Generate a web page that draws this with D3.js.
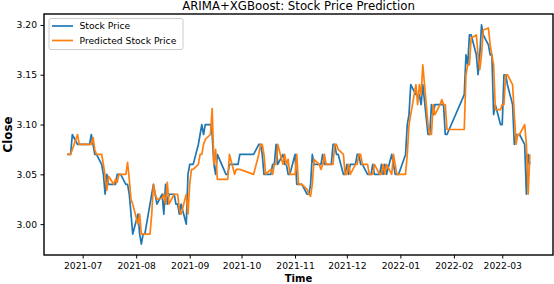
<!DOCTYPE html>
<html>
<head>
<meta charset="utf-8">
<script src="https://cdn.jsdelivr.net/npm/d3@7"></script>
<style>
  body { margin: 0; background: #fff; }
  svg { font-family: "DejaVu Sans", sans-serif; }
</style>
</head>
<body>
<div id="chart"></div>
<script>
// trading days (dates), actual close and predicted close
var dates = [
  "2021-06-22","2021-06-23","2021-06-24","2021-06-25","2021-06-28","2021-06-29","2021-06-30",
  "2021-07-01","2021-07-02","2021-07-05","2021-07-06","2021-07-07","2021-07-08","2021-07-09",
  "2021-07-12","2021-07-13","2021-07-14","2021-07-15","2021-07-16","2021-07-19","2021-07-20",
  "2021-07-21","2021-07-22","2021-07-23","2021-07-26","2021-07-27","2021-07-28","2021-07-29",
  "2021-07-30","2021-08-02","2021-08-03","2021-08-04","2021-08-05","2021-08-06","2021-08-09",
  "2021-08-10","2021-08-11","2021-08-12","2021-08-13","2021-08-16","2021-08-17","2021-08-18",
  "2021-08-19","2021-08-20","2021-08-23","2021-08-24","2021-08-25","2021-08-26","2021-08-27",
  "2021-08-30","2021-08-31","2021-09-01","2021-09-02","2021-09-03","2021-09-06","2021-09-07",
  "2021-09-08","2021-09-09","2021-09-10","2021-09-13","2021-09-14","2021-09-15","2021-09-16",
  "2021-09-17","2021-09-22","2021-09-23","2021-09-24","2021-09-27","2021-09-28","2021-09-29",
  "2021-09-30","2021-10-08","2021-10-11","2021-10-12","2021-10-13","2021-10-14","2021-10-15",
  "2021-10-18","2021-10-19","2021-10-20","2021-10-21","2021-10-22","2021-10-25","2021-10-26",
  "2021-10-27","2021-10-28","2021-10-29","2021-11-01","2021-11-02","2021-11-03","2021-11-04",
  "2021-11-05","2021-11-08","2021-11-09","2021-11-10","2021-11-11","2021-11-12","2021-11-15",
  "2021-11-16","2021-11-17","2021-11-18","2021-11-19","2021-11-22","2021-11-23","2021-11-24",
  "2021-11-25","2021-11-26","2021-11-29","2021-11-30","2021-12-01","2021-12-02","2021-12-03",
  "2021-12-06","2021-12-07","2021-12-08","2021-12-09","2021-12-10","2021-12-13","2021-12-14",
  "2021-12-15","2021-12-16","2021-12-17","2021-12-20","2021-12-21","2021-12-22","2021-12-23",
  "2021-12-24","2021-12-27","2021-12-28","2021-12-29","2021-12-30","2021-12-31","2022-01-04",
  "2022-01-05","2022-01-06","2022-01-07","2022-01-10","2022-01-11","2022-01-12","2022-01-13",
  "2022-01-14","2022-01-17","2022-01-18","2022-01-19","2022-01-20","2022-01-21","2022-01-24",
  "2022-01-25","2022-01-26","2022-01-27","2022-01-28","2022-02-07","2022-02-08","2022-02-09",
  "2022-02-10","2022-02-11","2022-02-14","2022-02-15","2022-02-16","2022-02-17","2022-02-18",
  "2022-02-21","2022-02-22","2022-02-23","2022-02-24","2022-02-25","2022-02-28","2022-03-01",
  "2022-03-02","2022-03-03","2022-03-04","2022-03-07","2022-03-08","2022-03-09","2022-03-10",
  "2022-03-11","2022-03-14","2022-03-15","2022-03-16","2022-03-17"
];

var actual = [
  3.07, 3.07, 3.07, 3.09, 3.08, 3.08, 3.08,
  3.08, 3.08, 3.08, 3.09, 3.08, 3.07, 3.07,
  3.06, 3.05, 3.03, 3.05, 3.04, 3.04, 3.04,
  3.05, 3.05, 3.05, 3.04, 3.04, 3.03, 3.01,
  2.99, 3.01, 2.99, 2.98, 2.99, 2.99, 3.02,
  3.03, 3.04, 3.03, 3.02, 3.03, 3.01, 3.04,
  3.02, 3.03, 3.03, 3.02, 3.02, 3.01, 3.02,
  3.00, 3.05, 3.06, 3.06, 3.06, 3.08, 3.09,
  3.10, 3.09, 3.10, 3.10, 3.09, 3.06, 3.05,
  3.07, 3.05, 3.05, 3.06, 3.06, 3.06, 3.06,
  3.07, 3.07, 3.08, 3.08, 3.07, 3.05, 3.05,
  3.05, 3.06, 3.06, 3.08, 3.06, 3.07, 3.06,
  3.06, 3.05, 3.05, 3.07, 3.04, 3.04, 3.04,
  3.04, 3.03, 3.03, 3.04, 3.07, 3.06, 3.06,
  3.06, 3.07, 3.06, 3.06, 3.06, 3.08, 3.08,
  3.07, 3.07, 3.05, 3.05, 3.06, 3.05, 3.06,
  3.06, 3.07, 3.07, 3.06, 3.06, 3.05, 3.05,
  3.05, 3.06, 3.05, 3.05, 3.06, 3.05, 3.06,
  3.05, 3.07, 3.06, 3.05, 3.05, 3.05, 3.07,
  3.10, 3.11, 3.14, 3.13, 3.13, 3.13, 3.12,
  3.14, 3.09, 3.09, 3.12, 3.11, 3.12, 3.12,
  3.12, 3.12, 3.09, 3.09, 3.13, 3.17, 3.16,
  3.19, 3.19, 3.17, 3.15, 3.17, 3.20, 3.19,
  3.18, 3.17, 3.17, 3.11, 3.12, 3.10, 3.10,
  3.15, 3.15, 3.14, 3.12, 3.08, 3.09, 3.09,
  3.09, 3.08, 3.03, 3.07, 3.06
];

var predicted = [
  3.07, 3.07, 3.07, 3.075, 3.09, 3.08, 3.08,
  3.08, 3.08, 3.08, 3.08, 3.087, 3.075, 3.07,
  3.07, 3.06, 3.048, 3.034, 3.048, 3.04, 3.045,
  3.042, 3.05, 3.05, 3.05, 3.062, 3.045, 3.025,
  3.02, 3.00, 3.01, 2.99, 2.99, 2.99, 2.99,
  3.01, 3.04, 3.03, 3.025, 3.026, 3.03, 3.02,
  3.042, 3.02, 3.03, 3.03, 3.03, 3.015, 3.01,
  3.03, 3.01, 3.04, 3.055, 3.055, 3.06, 3.07,
  3.07, 3.08, 3.085, 3.09, 3.116, 3.06, 3.075,
  3.045, 3.045, 3.045, 3.07, 3.05, 3.055, 3.055,
  3.055, 3.05, 3.07, 3.08, 3.08, 3.07, 3.05,
  3.055, 3.05, 3.06, 3.06, 3.08, 3.06, 3.07,
  3.06, 3.065, 3.05, 3.05, 3.07, 3.04, 3.04,
  3.04, 3.035, 3.03, 3.028, 3.04, 3.065, 3.06,
  3.055, 3.06, 3.07, 3.06, 3.06, 3.06, 3.08,
  3.08, 3.075, 3.07, 3.05, 3.05, 3.06, 3.05,
  3.06, 3.06, 3.07, 3.07, 3.06, 3.06, 3.05,
  3.05, 3.05, 3.06, 3.05, 3.05, 3.06, 3.05,
  3.06, 3.05, 3.07, 3.06, 3.05, 3.05, 3.05,
  3.07, 3.10, 3.11, 3.14, 3.12, 3.14, 3.13,
  3.16, 3.10, 3.09, 3.09, 3.12, 3.11, 3.12,
  3.125, 3.12, 3.12, 3.095, 3.095, 3.15, 3.16,
  3.16, 3.187, 3.19, 3.17, 3.155, 3.17, 3.195,
  3.197, 3.18, 3.17, 3.16, 3.115, 3.115, 3.12,
  3.12, 3.15, 3.15, 3.14, 3.11, 3.08, 3.09,
  3.09, 3.10, 3.08, 3.03, 3.07
];

var yTicks = [3.00, 3.05, 3.10, 3.15, 3.20];
var seriesNames = ["Stock Price", "Predicted Stock Price"];
var seriesColors = ["#1f77b4", "#ff7f0e"];

var W = 554, H = 284;
var margin = { top: 14, right: 1, bottom: 29, left: 44 };

var parse = d3.timeParse("%Y-%m-%d");
var days = dates.map(parse);
var series = [actual, predicted].map(function (vals, k) {
  return { name: seriesNames[k], color: seriesColors[k],
           values: vals.map(function (v, i) { return { date: days[i], value: v }; }) };
});

var svg = d3.select("#chart").append("svg")
  .attr("width", W)
  .attr("height", H);

// matplotlib-like 5% margins on both axes
var tExt = d3.extent(days);
var tPad = (tExt[1] - tExt[0]) * 0.05;
var x = d3.scaleTime()
  .domain([new Date(+tExt[0] - tPad), new Date(+tExt[1] + tPad)])
  .range([margin.left, W - margin.right]);

var allVals = actual.concat(predicted);
var vMin = d3.min(allVals), vMax = d3.max(allVals);
var vPad = (vMax - vMin) * 0.05;
var y = d3.scaleLinear()
  .domain([vMin - vPad, vMax + vPad])
  .range([H - margin.bottom, margin.top]);

var line = d3.line()
  .x(function (d) { return x(d.date); })
  .y(function (d) { return y(d.value); });

svg.append("g")
  .selectAll("path")
  .data(series)
  .enter().append("path")
  .attr("fill", "none")
  .attr("stroke", function (d) { return d.color; })
  .attr("stroke-width", 1.7)
  .attr("stroke-linejoin", "round")
  .attr("d", function (d) { return line(d.values); });

// x axis
var xAxis = svg.append("g")
  .attr("transform", "translate(0," + (H - margin.bottom) + ")")
  .call(d3.axisBottom(x)
    .ticks(d3.timeMonth.every(1))
    .tickFormat(d3.timeFormat("%Y-%m"))
    .tickSizeOuter(0)
    .tickSize(3.5)
    .tickPadding(3.5));

// y axis
var yAxis = svg.append("g")
  .attr("transform", "translate(" + margin.left + ",0)")
  .call(d3.axisLeft(y)
    .tickValues(yTicks)
    .tickFormat(d3.format(".2f"))
    .tickSizeOuter(0)
    .tickSize(3.5)
    .tickPadding(3.5));

[xAxis, yAxis].forEach(function (g) {
  g.select(".domain").remove();
  g.selectAll(".tick line").attr("stroke", "#000").attr("stroke-width", 1);
  g.selectAll(".tick text")
    .attr("fill", "#000")
    .style("font-size", "9.2px")
    .style("font-family", "DejaVu Sans");
});

// axes frame
svg.append("rect")
  .attr("x", margin.left)
  .attr("y", margin.top)
  .attr("width", W - margin.right - margin.left)
  .attr("height", H - margin.bottom - margin.top)
  .attr("fill", "none")
  .attr("stroke", "#000")
  .attr("stroke-width", 1.4);

// title
var title = svg.append("text")
  .attr("x", (margin.left + W - margin.right) / 2)
  .attr("y", 9.5)
  .attr("text-anchor", "middle")
  .style("font-size", "11px")
  .text("ARIMA+XGBoost: Stock Price Prediction");
var tw = title.node().getComputedTextLength();
title.style("font-size", (11 * 233 / tw) + "px");

// axis labels
svg.append("text")
  .attr("x", (margin.left + W - margin.right) / 2)
  .attr("y", 282)
  .attr("text-anchor", "middle")
  .style("font-size", "10px")
  .style("font-weight", "bold")
  .text("Time");

svg.append("text")
  .attr("transform", "translate(12," + ((margin.top + H - margin.bottom) / 2) + ") rotate(-90)")
  .attr("text-anchor", "middle")
  .style("font-size", "11.8px")
  .style("font-weight", "bold")
  .text("Close");

// legend
var legend = svg.append("g").attr("transform", "translate(49,18.5)");
legend.append("rect")
  .attr("width", 134)
  .attr("height", 31)
  .attr("rx", 2)
  .attr("fill", "#fff")
  .attr("fill-opacity", 0.8)
  .attr("stroke", "#cccccc")
  .attr("stroke-width", 1);

var items = legend.selectAll("g.item")
  .data(series)
  .enter().append("g")
  .attr("class", "item")
  .attr("transform", function (d, i) { return "translate(0," + (7.5 + i * 14.5) + ")"; });

items.append("line")
  .attr("x1", 3).attr("x2", 24)
  .attr("stroke", function (d) { return d.color; })
  .attr("stroke-width", 1.7);

items.append("text")
  .attr("x", 30.5)
  .attr("y", 3.3)
  .style("font-size", "9.2px")
  .text(function (d) { return d.name; });
</script>
</body>
</html>
